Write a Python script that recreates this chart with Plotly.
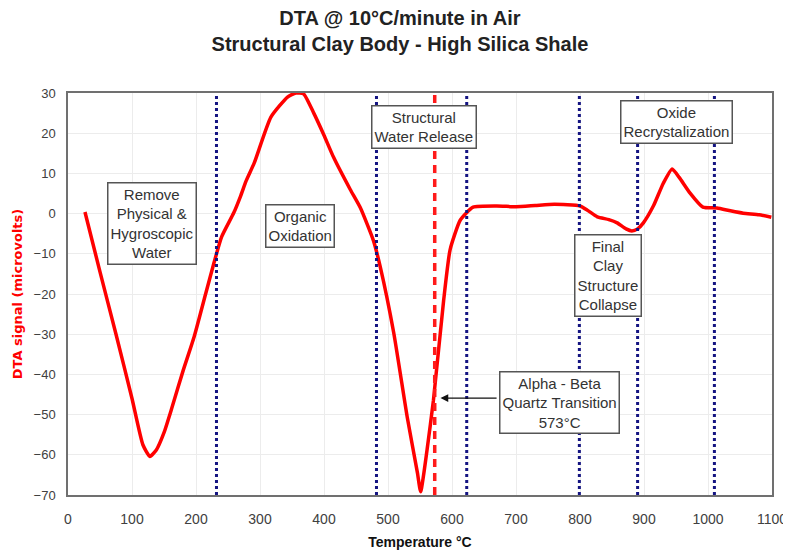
import plotly.graph_objects as go

temp = [26.5, 50, 75, 100, 117, 128, 138, 150, 162, 180, 197, 215, 228, 240, 259, 270, 278, 291, 317, 343, 356, 368,
        384, 400, 415, 441, 457, 477, 488, 509, 530, 546, 551, 561, 571, 587, 597, 613, 633, 670,
        700, 730, 760, 800, 812, 827, 845, 858, 872, 881, 890, 899, 915, 930, 944, 955, 972, 992, 1014,
        1035, 1055, 1080, 1099]
dta = [0.4, -14.5, -30, -46, -57.5, -60.4, -58.8, -54.5, -48.5, -39, -30.7, -20, -12.3, -5.8, 0.2, 4.5, 8, 12.6, 24, 29, 30, 29.8,
       25, 19.5, 14, 6, 1.4, -6.6, -13.3, -29.7, -50.6, -64.5, -69.2, -58.8, -46.4, -21.5, -9, -1.6, 1.6, 1.9,
       1.7, 2.0, 2.3, 1.9, 0.8, -0.8, -1.5, -2.3, -3.8, -4.3, -3.8, -2.3, 2, 7.5, 11.1, 9, 5.1, 1.6, 1.4,
       0.7, 0.1, -0.3, -0.9]

region_lines = [232, 482, 623, 799, 890, 1010]
quartz_line = 573

labels = ["Remove<br>Physical &<br>Hygroscopic<br>Water", "Organic<br>Oxidation",
          "Structural<br>Water Release", "Oxide<br>Recrystalization",
          "Final<br>Clay<br>Structure<br>Collapse", "Alpha - Beta<br>Quartz Transition<br>573°C"]
label_x = [131, 363, 557, 951, 843, 768]
label_y = [-2.4, -3, 21.5, 22.8, -15.4, -47]

arrow_tail_x = 672
arrow_head_x = 582
arrow_y = -45.9

x_ticks = list(range(0, 1101, 100))
y_ticks = list(range(-70, 31, 10))

FONT = "Liberation Sans, Arial, sans-serif"

fig = go.Figure()
fig.add_trace(go.Scatter(x=temp, y=dta, mode="lines",
                         line=dict(color="#ff0000", width=3.5, shape="spline", smoothing=0.5),
                         showlegend=False, hoverinfo="skip"))

for xv in region_lines:
    fig.add_shape(type="line", x0=xv, x1=xv, y0=-70, y1=30, xref="x", yref="y",
                  line=dict(color="#141482", width=3, dash="3px,3px"))
fig.add_shape(type="line", x0=quartz_line, x1=quartz_line, y0=-70, y1=30, xref="x", yref="y",
              line=dict(color="#ff1a1a", width=3.5, dash="8px,6px"))

fig.add_annotation(x=arrow_head_x, y=arrow_y, ax=arrow_tail_x, ay=arrow_y, axref="x", ayref="y",
                   xref="x", yref="y", text="", showarrow=True, arrowhead=2, arrowsize=1.3,
                   arrowwidth=1.2, arrowcolor="#111111")

for t, lx, ly in zip(labels, label_x, label_y):
    fig.add_annotation(x=lx, y=ly, xref="x", yref="y", text=t, showarrow=False,
                       font=dict(family=FONT, size=15, color="#333333"),
                       bgcolor="white", bordercolor="#555555", borderwidth=1.5, borderpad=2)

# the page body has an 8px margin, so the figure is sized to fit the 791x552 window
fig.update_layout(
    width=783, height=544,
    margin=dict(l=60, r=19, t=85, b=57),
    paper_bgcolor="white", plot_bgcolor="white",
    title=dict(text="<b>DTA @ 10°C/minute in Air<br>Structural Clay Body - High Silica Shale</b>",
               xref="container", x=0.5006, xanchor="center", yref="container", y=0.969, yanchor="top",
               font=dict(family=FONT, size=20, color="#222222")),
    font=dict(family=FONT, size=13, color="#404040"),
)
fig.update_xaxes(range=[0, 1100], tickvals=x_ticks, showgrid=True, gridcolor="#ececec", gridwidth=1,
                 showline=True, linecolor="#707070", linewidth=1.5, mirror=True, ticks="",
                 zeroline=False, automargin=False, ticklabelstandoff=10,
                 tickfont=dict(family=FONT, size=14, color="#404040"),
                 title=dict(text="<b>Temperature °C</b>", font=dict(family=FONT, size=14, color="#111111"), standoff=12))
fig.update_yaxes(range=[-70, 30], tickvals=y_ticks, showgrid=True, gridcolor="#ececec", gridwidth=1,
                 showline=True, linecolor="#707070", linewidth=1.5, mirror=True, ticks="",
                 zeroline=False, automargin=False, ticklabelstandoff=8,
                 tickfont=dict(family=FONT, size=13, color="#404040"),
                 title=dict(text="<b>DTA signal (microvolts)</b>",
                            font=dict(family="DejaVu Sans, sans-serif", size=13, color="#ff0000"), standoff=8))

fig.write_html("out.html")
